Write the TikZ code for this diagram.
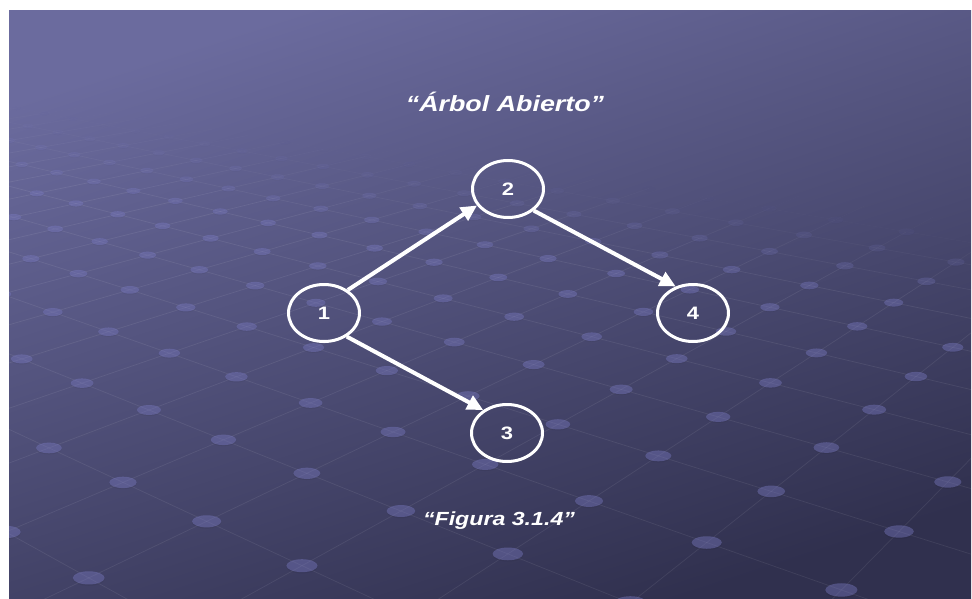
\documentclass[tikz,border=0pt]{standalone}
\usepackage{fontspec}
\setmainfont{Liberation Sans}
\newfontfamily\slidefont[FakeStretch=1.22]{Liberation Sans}
\usetikzlibrary{arrows.meta,shapes.geometric}
\definecolor{bgTop}{HTML}{6B6B9E}
\definecolor{bgBot}{HTML}{30304E}
\definecolor{dotc}{HTML}{7E7EC8}
\tikzset{
  vert/.style={ellipse, draw=white, line width=3pt, minimum width=71pt, minimum height=57pt,
    inner sep=0pt, text=white, font=\slidefont\bfseries\fontsize{18}{18}\selectfont},
  edgearrow/.style={white, line width=4pt, -{Triangle[length=16pt,width=15pt]}},
  caption/.style={text=white, inner sep=0pt},
}
\newcommand\projz[2]{%
  \pgfmathsetmacro\PZ{2.501+0.215*(0.7815*(#1)+0.6238*(#2))}}
\newcommand\projxy[2]{%
  \pgfmathsetmacro\PX{486+1318*(-0.6395+0.215*(0.6238*(#1)-0.7815*(#2)))/\PZ}%
  \pgfmathsetmacro\PY{-117+1318/\PZ}}
\begin{document}
\begin{tikzpicture}[x=1pt,y=-1pt]
\useasboundingbox (0,0) rectangle (972,599);
\shade[top color=bgTop, bottom color=bgBot, shading angle=18] (9,11) rectangle (971,598);
\begin{scope}
  \clip (9,11) rectangle (971,598);
  \foreach \i in {-7,...,20}{
    \foreach \j in {-12,...,15}{
      \projz{\i}{\j}
      \ifdim\PZ pt>1.6pt
        \ifdim\PZ pt<6.5pt
          \projxy{\i}{\j}
          \let\ax\PX \let\ay\PY \let\az\PZ
          \pgfmathsetmacro\t{max(0,min(1,(\ay-100-0.13*\ax)/90))}
          \pgfmathsetmacro\lo{0.08*\t}
          \pgfmathsetmacro\dop{0.42*\t}
          \pgfmathsetmacro\sop{0.05*\t}
          \projz{\i+1}{\j}
          \ifdim\PZ pt>1.6pt
            \projxy{\i+1}{\j}
            \draw[white, line width=0.7pt, opacity=\lo] (\ax,\ay) -- (\PX,\PY);
          \fi
          \projz{\i}{\j+1}
          \ifdim\PZ pt>1.6pt
            \projxy{\i}{\j+1}
            \draw[white, line width=0.7pt, opacity=\lo] (\ax,\ay) -- (\PX,\PY);
          \fi
          \pgfmathsetmacro\rx{30/\az}
          \pgfmathsetmacro\ry{12.5/\az}
          \pgfmathsetmacro\dy{\ay+0.2*\ry}
          \fill[black, opacity=\sop] (\ax,\dy) ellipse[x radius=\rx pt, y radius=\ry pt];
          \fill[dotc, opacity=\dop] (\ax,\ay) ellipse[x radius=\rx pt, y radius=\ry pt];
        \fi
      \fi
    }
  }
\end{scope}
\node[caption, font=\slidefont\bfseries\itshape\fontsize{22}{22}\selectfont] (title) at (505,102) {“Árbol Abierto”};
\node[caption, font=\slidefont\bfseries\itshape\fontsize{19}{19}\selectfont] (fig) at (499,521) {“Figura 3.1.4”};
\node[vert] (n1) at (324,313) {1};
\node[vert] (n2) at (508,189) {2};
\node[vert] (n3) at (507,433) {3};
\node[vert] (n4) at (693,313) {4};
\draw[edgearrow] (n1.44) -- (n2.208);
\draw[edgearrow] (n2.320) -- (n4.123);
\draw[edgearrow] (n1.-46) -- (n3.136);
\end{tikzpicture}
\end{document}
